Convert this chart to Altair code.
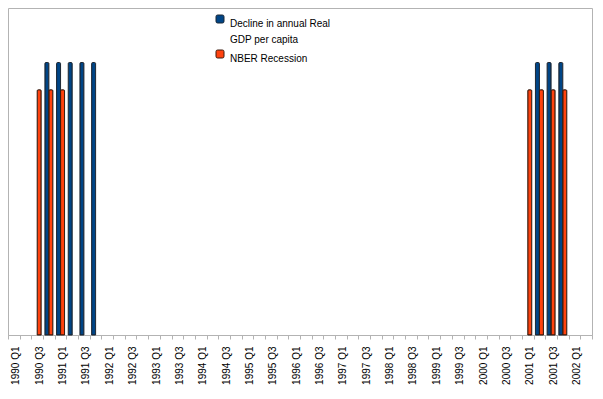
import altair as alt
import pandas as pd

quarters = [
    "1990 Q1", "1990 Q2", "1990 Q3", "1990 Q4",
    "1991 Q1", "1991 Q2", "1991 Q3", "1991 Q4",
    "1992 Q1", "1992 Q2", "1992 Q3", "1992 Q4",
    "1993 Q1", "1993 Q2", "1993 Q3", "1993 Q4",
    "1994 Q1", "1994 Q2", "1994 Q3", "1994 Q4",
    "1995 Q1", "1995 Q2", "1995 Q3", "1995 Q4",
    "1996 Q1", "1996 Q2", "1996 Q3", "1996 Q4",
    "1997 Q1", "1997 Q2", "1997 Q3", "1997 Q4",
    "1998 Q1", "1998 Q2", "1998 Q3", "1998 Q4",
    "1999 Q1", "1999 Q2", "1999 Q3", "1999 Q4",
    "2000 Q1", "2000 Q2", "2000 Q3", "2000 Q4",
    "2001 Q1", "2001 Q2", "2001 Q3", "2001 Q4",
    "2002 Q1", "2002 Q2",
]

series_names = ["Decline in annual Real GDP per capita", "NBER Recession"]
series_colors = ["#004586", "#ff420e"]
series_strokes = ["#1b2633", "#3a1a0e"]

decline_quarters = ["1990 Q4", "1991 Q1", "1991 Q2", "1991 Q3", "1991 Q4",
                    "2001 Q2", "2001 Q3", "2001 Q4"]
decline_values = [1, 1, 1, 1, 1, 1, 1, 1]

nber_quarters = ["1990 Q3", "1990 Q4", "1991 Q1",
                 "2001 Q1", "2001 Q2", "2001 Q3", "2001 Q4"]
nber_values = [0.9, 0.9, 0.9, 0.9, 0.9, 0.9, 0.9]

rows = []
for q, v in zip(decline_quarters, decline_values):
    rows.append({"quarter": q, "series": series_names[0], "value": v})
for q, v in zip(nber_quarters, nber_values):
    rows.append({"quarter": q, "series": series_names[1], "value": v})
df = pd.DataFrame(rows)

rounded_square = ("M-1,-0.6 Q-1,-1 -0.6,-1 L0.6,-1 Q1,-1 1,-0.6 L1,0.6 "
                  "Q1,1 0.6,1 L-0.6,1 Q-1,1 -1,0.6 Z")

chart = alt.Chart(df).mark_bar(
    strokeWidth=1, cornerRadiusTopLeft=1, cornerRadiusTopRight=1
).encode(
    x=alt.X(
        "quarter:N",
        sort=quarters,
        scale=alt.Scale(domain=quarters, paddingInner=0, paddingOuter=0),
        axis=alt.Axis(
            title=None,
            labelAngle=270,
            labelFontSize=10,
            labelFont="Liberation Sans",
            labelColor="black",
            labelExpr="indexof(datum.label, 'Q1') >= 0 || indexof(datum.label, 'Q3') >= 0 ? datum.label : ''",
            labelOverlap=False,
            tickBand="extent",
            tickSize=4,
            tickColor="#b3b3b3",
            domainColor="#b3b3b3",
            labelPadding=7,
            labelOffset=2,
        ),
    ),
    xOffset=alt.XOffset(
        "series:N",
        sort=series_names,
        scale=alt.Scale(domain=series_names, paddingInner=0, paddingOuter=0.46),
    ),
    y=alt.Y("value:Q", scale=alt.Scale(domain=[0, 1.2]), axis=None),
    color=alt.Color(
        "series:N",
        scale=alt.Scale(domain=series_names, range=series_colors),
        legend=alt.Legend(
            title=None,
            orient="none",
            legendX=207,
            legendY=6,
            symbolType=rounded_square,
            symbolSize=64,
            symbolStrokeColor="#222222",
            symbolStrokeWidth=1,
            symbolOpacity=1,
            labelFont="Liberation Sans",
            labelFontSize=10,
            labelColor="black",
            labelBaseline="top",
            labelOffset=5,
            rowPadding=3,
            labelExpr="datum.label == 'Decline in annual Real GDP per capita' ? ['Decline in annual Real', 'GDP per capita'] : datum.label",
        ),
    ),
    stroke=alt.Stroke(
        "series:N",
        scale=alt.Scale(domain=series_names, range=series_strokes),
        legend=None,
    ),
).properties(
    width=584,
    height=327,
    autosize=alt.AutoSizeParams(type="none"),
    padding={"left": 0, "top": 0, "right": 3, "bottom": 50},
    background="white",
).configure(
    style={"guide-label": {"lineHeight": 15.5}},
    view=alt.ViewConfig(stroke="#b3b3b3", strokeWidth=1),
)

chart.save("out.html", embed_options={"renderer": "svg", "actions": False})
